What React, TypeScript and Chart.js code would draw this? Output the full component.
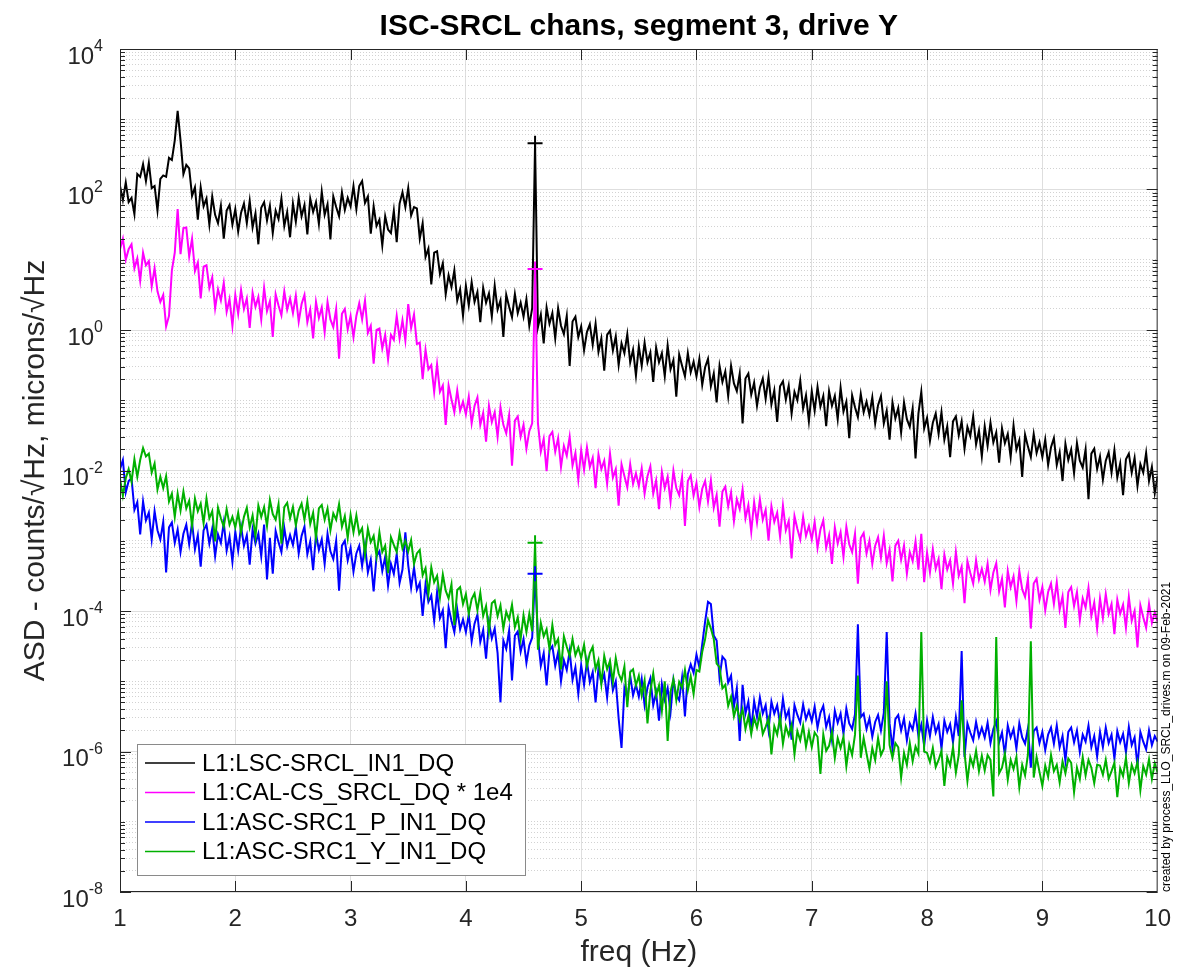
import React, { useEffect, useRef } from 'react';
import { Chart, registerables } from 'chart.js';

Chart.register(...registerables);

const FONT = '"Liberation Sans", Arial, Helvetica, sans-serif';
const AXIS_COLOR = '#262626';
const MAJOR_GRID = 'rgb(222,222,222)';
const MINOR_GRID = 'rgb(210,210,210)';

// frequency axis: 1 Hz .. 10 Hz sampled every 0.025 Hz
const freqStart = 1;
const freqStep = 0.025;
const pointCount = 361;
const freqs = Array.from({ length: pointCount }, (_, i) => Math.round((freqStart + i * freqStep) * 1000) / 1000);

const xTickValues = [1, 2, 3, 4, 5, 6, 7, 8, 9, 10];
const yLabelExponents = [4, 2, 0, -2, -4, -6, -8];
const yDecades = [-8, -7, -6, -5, -4, -3, -2, -1, 0, 1, 2, 3];
const yMantissas = [1, 2, 3, 4, 5, 6, 7, 8, 9];

const seriesLabels = [
  'L1:LSC-SRCL_IN1_DQ',
  'L1:CAL-CS_SRCL_DQ * 1e4',
  'L1:ASC-SRC1_P_IN1_DQ',
  'L1:ASC-SRC1_Y_IN1_DQ',
];
const seriesColors = ['#000000', '#ff00ff', '#0000ff', '#00b000'];

// log10 of the ASD, one value per 0.025 Hz (each row = 0.5 Hz)
const lscSrclLog = [
  2.05, 1.85, 2.10, 1.82, 1.88, 1.65, 2.22, 2.18, 2.36, 2.12, 2.38, 2.02, 2.05, 1.70, 2.15, 2.20, 2.18, 2.45, 2.42, 2.70,
  3.12, 2.70, 2.22, 2.35, 2.30, 1.91, 2.03, 1.57, 2.03, 1.76, 1.87, 1.50, 1.90, 1.64, 1.52, 1.77, 1.30, 1.70, 1.78, 1.50,
  1.72, 1.40, 1.67, 1.80, 1.52, 1.84, 1.46, 1.66, 1.22, 1.74, 1.82, 1.56, 1.77, 1.38, 1.70, 1.58, 1.87, 1.48, 1.68, 1.32,
  1.80, 1.54, 1.88, 1.62, 1.78, 1.36, 1.87, 1.68, 1.82, 1.51, 1.97, 1.64, 1.79, 1.29, 1.90, 1.75, 1.62, 1.96, 1.71, 1.88,
  1.76, 2.05, 1.72, 2.05, 2.12, 1.81, 1.90, 1.37, 1.76, 1.48, 1.57, 1.20, 1.62, 1.43, 1.38, 1.70, 1.25, 1.80, 1.96, 1.75,
  2.02, 1.63, 1.75, 1.73, 1.30, 1.52, 1.04, 1.16, 0.65, 1.10, 1.12, 0.80, 0.95, 0.51, 0.78, 0.61, 0.85, 0.42, 0.58, 0.20,
  0.63, 0.35, 0.68, 0.40, 0.54, 0.11, 0.60, 0.39, 0.52, 0.19, 0.63, 0.29, 0.42, -0.10, 0.50, 0.33, 0.18, 0.51, 0.24, 0.39,
  0.19, 0.44, 0.06, 0.31, 2.66, 0.04, 0.22, -0.19, 0.32, 0.09, 0.24, -0.12, 0.31, 0.06, -0.06, 0.20, -0.51, 0.12, 0.19, -0.10,
  0.05, -0.29, -0.03, 0.08, -0.21, 0.09, -0.31, -0.12, -0.58, -0.07, -0.01, -0.29, -0.09, -0.50, -0.19, -0.33, -0.06, -0.46, -0.28, -0.65,
  -0.23, -0.51, -0.18, -0.46, -0.32, -0.74, -0.25, -0.46, -0.33, -0.66, -0.22, -0.56, -0.43, -0.95, -0.35, -0.51, -0.66, -0.33, -0.60, -0.45,
  -0.66, -0.41, -0.78, -0.53, -0.41, -0.80, -0.62, -1.03, -0.51, -0.74, -0.59, -0.94, -0.51, -0.76, -0.87, -0.62, -1.33, -0.69, -0.62, -0.92,
  -0.75, -1.08, -0.82, -0.69, -0.98, -0.67, -1.06, -0.86, -1.31, -0.80, -0.73, -0.99, -0.79, -1.19, -0.88, -1.00, -0.72, -1.12, -0.93, -1.30,
  -0.87, -1.15, -0.81, -1.09, -0.94, -1.37, -0.87, -1.08, -0.94, -1.27, -0.82, -1.16, -1.02, -1.54, -0.93, -1.10, -1.24, -0.91, -1.17, -1.02,
  -1.21, -0.96, -1.33, -1.07, -0.94, -1.33, -1.15, -1.56, -1.03, -1.26, -1.11, -1.46, -1.03, -1.27, -1.38, -1.12, -1.83, -1.19, -0.88, -1.40,
  -1.25, -1.58, -1.32, -1.19, -1.48, -1.17, -1.56, -1.37, -1.81, -1.30, -1.23, -1.50, -1.30, -1.69, -1.38, -1.51, -1.23, -1.63, -1.43, -1.80,
  -1.37, -1.65, -1.32, -1.60, -1.46, -1.89, -1.40, -1.61, -1.48, -1.81, -1.36, -1.70, -1.57, -2.09, -1.49, -1.66, -1.81, -1.48, -1.75, -1.60,
  -1.81, -1.56, -1.92, -1.67, -1.54, -1.92, -1.74, -2.15, -1.62, -1.85, -1.70, -2.04, -1.61, -1.86, -1.96, -1.70, -2.41, -1.76, -1.69, -1.98,
  -1.80, -2.13, -1.86, -1.74, -2.03, -1.71, -2.10, -1.90, -2.35, -1.84, -1.76, -2.03, -1.82, -2.22, -1.91, -2.03, -1.75, -2.15, -1.95, -2.32,
  -2.08,
];

const calSrclLog = [
  1.15, 1.30, 1.00, 1.15, 1.22, 0.88, 1.02, 0.70, 1.10, 0.92, 0.98, 0.62, 0.88, 0.55, 0.40, 0.50, 0.05, 0.20, 0.85, 1.10,
  1.72, 1.08, 1.45, 1.46, 1.05, 1.30, 0.84, 0.96, 0.45, 0.90, 0.92, 0.60, 0.75, 0.31, 0.58, 0.42, 0.67, 0.26, 0.44, 0.06,
  0.50, 0.23, 0.57, 0.30, 0.45, 0.03, 0.53, 0.33, 0.47, 0.15, 0.60, 0.27, 0.41, -0.10, 0.51, 0.35, 0.21, 0.55, 0.29, 0.45,
  0.24, 0.49, 0.12, 0.37, 0.50, 0.11, 0.29, -0.12, 0.40, 0.17, 0.32, -0.03, 0.40, 0.15, 0.04, 0.30, -0.41, 0.23, 0.30, 0.01,
  0.20, -0.10, 0.20, 0.38, 0.15, 0.42, -0.04, 0.06, -0.48, 0.00, 0.02, -0.26, -0.07, -0.42, -0.07, -0.14, 0.20, -0.12, 0.14, -0.15,
  0.37, 0.03, 0.22, -0.20, -0.18, -0.70, -0.28, -0.56, -0.50, -0.88, -0.49, -0.88, -0.79, -1.35, -0.79, -0.99, -1.17, -0.86, -1.15, -1.02,
  -1.20, -0.95, -1.33, -1.08, -0.96, -1.35, -1.18, -1.59, -1.08, -1.31, -1.17, -1.52, -1.10, -1.35, -1.47, -1.21, -1.93, -1.29, -1.23, -1.52,
  -1.35, -1.69, -1.44, -1.33, 0.87, -1.33, -1.73, -1.55, -2.01, -1.51, -1.45, -1.73, -1.54, -1.95, -1.65, -1.79, -1.52, -1.93, -1.75, -2.13,
  -1.71, -1.99, -1.67, -1.95, -1.82, -2.25, -1.77, -1.98, -1.86, -2.19, -1.76, -2.10, -1.98, -2.50, -1.91, -2.08, -2.24, -1.91, -2.19, -2.04,
  -2.22, -1.97, -2.33, -2.08, -1.94, -2.33, -2.14, -2.55, -2.02, -2.25, -2.09, -2.44, -2.00, -2.25, -2.35, -2.09, -2.79, -2.15, -2.07, -2.36,
  -2.18, -2.52, -2.26, -2.15, -2.44, -2.14, -2.53, -2.35, -2.80, -2.30, -2.23, -2.51, -2.31, -2.72, -2.41, -2.55, -2.27, -2.68, -2.49, -2.87,
  -2.45, -2.74, -2.41, -2.70, -2.56, -3.00, -2.51, -2.73, -2.60, -2.94, -2.50, -2.85, -2.72, -3.25, -2.65, -2.83, -2.98, -2.66, -2.93, -2.79,
  -2.98, -2.73, -3.10, -2.84, -2.71, -3.10, -2.92, -3.33, -2.81, -3.04, -2.88, -3.23, -2.80, -3.05, -3.16, -2.90, -3.61, -2.96, -2.89, -3.18,
  -3.00, -3.33, -3.07, -2.95, -3.24, -2.93, -3.32, -3.13, -3.58, -3.07, -3.00, -3.27, -3.07, -3.47, -3.16, -3.29, -3.01, -3.41, -2.90, -3.59,
  -3.17, -3.45, -3.12, -3.40, -3.26, -3.69, -3.20, -3.41, -3.28, -3.61, -3.16, -3.50, -3.37, -3.89, -3.29, -3.46, -3.61, -3.28, -3.55, -3.40,
  -3.58, -3.33, -3.70, -3.45, -3.32, -3.72, -3.54, -3.95, -3.43, -3.66, -3.51, -3.86, -3.43, -3.69, -3.80, -3.54, -4.25, -3.61, -3.54, -3.84,
  -3.66, -3.99, -3.73, -3.61, -3.90, -3.59, -3.98, -3.79, -4.24, -3.73, -3.66, -3.93, -3.73, -4.13, -3.82, -3.95, -3.67, -4.07, -3.88, -4.25,
  -3.82, -4.10, -3.76, -4.04, -3.90, -4.33, -3.84, -4.04, -3.91, -4.24, -3.80, -4.14, -4.00, -4.52, -3.92, -4.09, -4.24, -3.90, -4.17, -4.02,
  -4.15,
];

const ascSrc1PLog = [
  -1.98, -1.85, -2.31, -2.15, -2.11, -2.56, -2.45, -2.91, -2.44, -2.71, -2.60, -2.98, -2.58, -2.85, -2.98, -2.73, -3.45, -2.81, -2.74, -3.03,
  -2.84, -3.16, -2.90, -2.77, -3.05, -2.74, -3.12, -2.92, -3.37, -2.85, -2.77, -3.04, -2.83, -3.22, -2.91, -3.03, -2.74, -3.14, -2.94, -3.30,
  -2.87, -3.14, -2.80, -3.07, -2.92, -3.34, -2.84, -3.04, -2.90, -3.22, -2.77, -3.55, -2.96, -3.47, -2.86, -3.02, -3.16, -2.82, -3.08, -2.92,
  -3.06, -2.81, -3.18, -2.93, -2.80, -3.19, -3.01, -3.42, -2.90, -3.13, -2.98, -3.33, -2.90, -3.15, -3.26, -3.00, -3.71, -3.07, -3.00, -3.28,
  -3.10, -3.44, -3.18, -3.07, -3.36, -3.06, -3.45, -3.27, -3.72, -3.22, -3.15, -3.43, -3.23, -3.64, -3.33, -3.47, -3.19, -3.60, -3.41, -2.88,
  -3.35, -3.67, -3.38, -3.70, -3.60, -4.07, -3.62, -3.87, -3.78, -4.14, -3.73, -4.10, -3.99, -4.53, -3.95, -4.14, -4.30, -3.98, -4.26, -4.12,
  -4.30, -4.05, -4.43, -4.18, -4.05, -4.44, -4.27, -4.68, -4.16, -4.39, -4.25, -4.60, -5.30, -4.42, -4.54, -4.28, -4.99, -4.35, -4.29, -4.58,
  -4.40, -4.74, -4.49, -4.38, -3.47, -4.38, -4.78, -4.60, -5.06, -4.56, -4.50, -4.78, -4.59, -5.00, -4.70, -4.84, -4.57, -4.98, -4.80, -5.18,
  -4.77, -5.05, -4.72, -5.01, -4.87, -5.30, -4.81, -5.02, -4.90, -5.23, -4.79, -5.13, -5.00, -5.53, -5.95, -5.10, -5.25, -4.92, -5.20, -5.05,
  -5.22, -4.97, -5.34, -5.09, -4.96, -5.34, -5.16, -5.56, -5.04, -5.26, -5.10, -5.44, -4.98, -5.20, -5.27, -4.95, -5.50, -4.90, -4.76, -4.88,
  -4.62, -4.80, -4.47, -4.15, -3.87, -3.90, -4.35, -4.42, -4.95, -4.65, -4.70, -5.02, -4.92, -5.36, -5.10, -5.85, -5.05, -5.46, -5.29, -5.68,
  -5.28, -5.51, -5.23, -5.46, -5.34, -5.69, -5.29, -5.46, -5.34, -5.61, -5.25, -5.52, -5.41, -5.83, -5.34, -5.48, -5.59, -5.33, -5.54, -5.42,
  -5.57, -5.36, -5.66, -5.45, -5.35, -5.65, -5.51, -5.83, -5.42, -5.59, -5.46, -5.75, -5.39, -5.60, -5.68, -5.47, -4.19, -5.51, -5.46, -5.68,
  -5.53, -5.79, -5.58, -5.48, -5.70, -5.45, -4.30, -5.60, -5.96, -5.54, -5.48, -5.70, -5.53, -5.84, -5.60, -5.69, -5.46, -5.78, -5.62, -5.92,
  -5.56, -5.78, -5.51, -5.73, -5.61, -5.96, -5.56, -5.72, -5.61, -5.87, -5.51, -5.78, -4.57, -6.08, -5.60, -5.73, -5.84, -5.58, -5.79, -5.66,
  -5.80, -5.59, -5.88, -5.68, -5.57, -5.87, -5.73, -6.05, -5.63, -5.80, -5.68, -5.96, -5.60, -5.80, -5.89, -5.67, -6.23, -5.71, -5.66, -5.88,
  -5.72, -5.98, -5.76, -5.66, -5.89, -5.63, -5.94, -5.78, -6.13, -5.72, -5.66, -5.87, -5.70, -6.01, -5.76, -5.86, -5.63, -5.94, -5.78, -6.07,
  -5.72, -5.94, -5.66, -5.88, -5.76, -6.10, -5.71, -5.87, -5.75, -6.01, -5.65, -5.91, -5.80, -6.21, -5.72, -5.86, -5.97, -5.70, -5.91, -5.78,
  -5.86,
];

const ascSrc1YLog = [
  -2.12, -2.36, -2.11, -1.98, -2.16, -1.84, -2.09, -1.85, -1.68, -1.80, -1.76, -2.03, -1.90, -2.27, -2.09, -2.25, -2.08, -2.44, -2.33, -2.66,
  -2.33, -2.57, -2.30, -2.54, -2.43, -2.79, -2.40, -2.58, -2.47, -2.75, -2.40, -2.68, -2.58, -3.01, -2.53, -2.68, -2.80, -2.55, -2.77, -2.66,
  -2.81, -2.60, -2.88, -2.66, -2.53, -2.81, -2.64, -2.94, -2.50, -2.66, -2.52, -2.79, -2.42, -2.62, -2.70, -2.48, -3.04, -2.52, -2.46, -2.68,
  -2.52, -2.78, -2.57, -2.47, -2.70, -2.44, -2.76, -2.60, -2.96, -2.54, -2.49, -2.70, -2.54, -2.85, -2.61, -2.70, -2.48, -2.80, -2.65, -2.96,
  -2.63, -2.88, -2.64, -2.90, -2.82, -3.20, -2.83, -3.02, -2.93, -3.22, -2.88, -3.16, -3.07, -3.46, -2.95, -3.06, -3.16, -2.89, -3.11, -3.00,
  -3.15, -2.99, -3.33, -3.18, -3.13, -3.49, -3.39, -3.76, -3.38, -3.59, -3.50, -3.81, -3.48, -3.71, -3.82, -3.62, -4.20, -3.70, -3.66, -3.90,
  -3.76, -4.04, -3.83, -3.75, -3.99, -3.74, -4.07, -3.93, -4.29, -3.89, -3.85, -4.07, -3.92, -4.25, -4.01, -4.12, -3.91, -4.23, -4.09, -4.40,
  -4.06, -4.30, -4.04, -4.29, -3.03, -4.55, -4.17, -4.36, -4.26, -4.54, -4.20, -4.48, -4.40, -4.83, -4.36, -4.51, -4.64, -4.40, -4.63, -4.52,
  -4.67, -4.48, -4.79, -4.60, -4.51, -4.83, -4.70, -5.04, -4.64, -4.83, -4.71, -5.01, -4.67, -4.89, -4.99, -4.79, -5.37, -4.87, -4.83, -5.06,
  -4.92, -5.20, -4.99, -5.60, -5.14, -4.89, -5.21, -5.06, -5.42, -5.00, -5.85, -5.15, -4.97, -5.27, -5.01, -5.09, -4.84, -5.13, -4.93, -5.18,
  -4.84, -4.86, -4.58, -4.40, -4.13, -4.25, -4.40, -4.75, -4.80, -5.10, -5.05, -5.35, -5.22, -5.50, -5.35, -5.55, -5.40, -5.68, -5.50, -5.75,
  -5.52, -5.66, -5.47, -5.75, -5.65, -5.53, -6.04, -5.64, -5.76, -5.51, -5.89, -5.64, -5.77, -5.62, -6.04, -5.71, -5.84, -5.63, -5.93, -5.72,
  -5.94, -5.73, -5.79, -6.32, -5.76, -5.99, -5.92, -5.72, -6.09, -5.81, -5.95, -5.79, -6.21, -5.90, -6.05, -5.76, -4.92, -6.09, -5.81, -6.03,
  -6.24, -5.95, -6.12, -5.81, -6.05, -5.96, -5.00, -5.91, -6.09, -5.88, -5.94, -6.37, -6.02, -6.19, -5.88, -6.14, -5.93, -6.03, -4.30, -6.00,
  -6.02, -6.15, -5.95, -6.22, -6.12, -5.99, -6.49, -6.08, -6.20, -5.94, -6.30, -6.05, -5.27, -6.02, -6.42, -6.08, -6.21, -5.99, -6.28, -6.06,
  -6.27, -6.05, -6.12, -6.64, -4.37, -6.31, -6.23, -6.03, -6.40, -6.12, -6.25, -6.08, -6.51, -6.19, -6.34, -6.04, -4.43, -6.37, -6.08, -6.29,
  -6.49, -6.20, -6.36, -6.05, -6.28, -6.19, -6.44, -6.14, -6.31, -6.10, -6.16, -6.58, -6.23, -6.39, -6.08, -6.34, -6.12, -6.23, -6.45, -6.19,
  -6.20, -6.33, -6.12, -6.39, -6.28, -6.16, -6.65, -6.24, -6.35, -6.09, -6.45, -6.19, -6.31, -6.15, -6.55, -6.21, -6.33, -6.11, -6.39, -6.17,
  -6.30,
];

// calibration line markers (+) at 4.6 Hz, log10 of peak height per series
const calLineFreq = 4.6;
const calLinePeakLog = [2.66, 0.87, -3.47, -3.03];

const titleText = 'ISC-SRCL chans, segment 3, drive Y';
const xTitle = 'freq (Hz)';
const yTitle = 'ASD - counts/\u221AHz, microns/\u221AHz';
const footnote = 'created by process_LLO_SRCL_drives.m on 09-Feb-2021';

const yTickValues: number[] = [];
yDecades.forEach((d) => yMantissas.forEach((m) => yTickValues.push(Number((m * Math.pow(10, d)).toPrecision(10)))));
yTickValues.push(1e4);

const isMajorY = (v: number) => {
  const e = Math.log10(v);
  const r = Math.round(e);
  return Math.abs(e - r) < 1e-6 && r % 2 === 0;
};

const overlayPlugin = {
  id: 'matlabOverlay',
  afterDraw(chart: any) {
    const { ctx, chartArea: a } = chart;
    const xs = chart.scales.x;
    const ys = chart.scales.y;
    ctx.save();

    // axes box and inward ticks
    ctx.strokeStyle = AXIS_COLOR;
    ctx.lineWidth = 1;
    ctx.beginPath();
    xs.ticks.forEach((t: any) => {
      if (t.value <= 1 || t.value >= 10) return;
      const px = Math.round(xs.getPixelForValue(t.value)) + 0.5;
      ctx.moveTo(px, a.bottom);
      ctx.lineTo(px, a.bottom - 11);
      ctx.moveTo(px, a.top);
      ctx.lineTo(px, a.top + 11);
    });
    ys.ticks.forEach((t: any) => {
      const py = Math.round(ys.getPixelForValue(t.value)) + 0.5;
      const len = isMajorY(t.value) ? 11 : 5;
      ctx.moveTo(a.left, py);
      ctx.lineTo(a.left + len, py);
      ctx.moveTo(a.right, py);
      ctx.lineTo(a.right - len, py);
    });
    ctx.stroke();
    ctx.strokeRect(a.left + 0.5, a.top + 0.5, a.right - a.left - 1, a.bottom - a.top - 1);

    // y tick labels 10^n
    const baseFont = `24px ${FONT}`;
    const expFont = `16px ${FONT}`;
    ctx.fillStyle = AXIS_COLOR;
    ctx.textBaseline = 'alphabetic';
    ctx.textAlign = 'left';
    yLabelExponents.forEach((e) => {
      const py = ys.getPixelForValue(Math.pow(10, e));
      const expStr = e < 0 ? '-' + Math.abs(e) : String(e);
      ctx.font = expFont;
      const ew = ctx.measureText(expStr).width;
      ctx.font = baseFont;
      const bw = ctx.measureText('10').width;
      const right = a.left - 17;
      ctx.fillText('10', right - ew - bw, py + 14.5);
      ctx.font = expFont;
      ctx.fillText(expStr, right - ew, py + 2);
    });

    // legend
    const lx = a.left + 17;
    const ly = a.bottom - 148;
    const lw = 388;
    const lh = 131;
    ctx.fillStyle = '#ffffff';
    ctx.fillRect(lx, ly, lw, lh);
    ctx.strokeStyle = '#8a8a8a';
    ctx.lineWidth = 1;
    ctx.strokeRect(lx + 0.5, ly + 0.5, lw, lh);
    ctx.font = `24px ${FONT}`;
    ctx.textBaseline = 'middle';
    seriesLabels.forEach((lab, i) => {
      const ry = ly + 19 + i * 29.5;
      ctx.strokeStyle = seriesColors[i];
      ctx.lineWidth = 1.5;
      ctx.beginPath();
      ctx.moveTo(lx + 8, ry);
      ctx.lineTo(lx + 58, ry);
      ctx.stroke();
      ctx.fillStyle = '#000000';
      ctx.fillText(lab, lx + 65, ry + 1);
    });

    // footnote (vertical, right edge)
    ctx.translate(a.right + 9.5, a.bottom);
    ctx.rotate(-Math.PI / 2);
    ctx.font = `12px ${FONT}`;
    ctx.fillStyle = '#000000';
    ctx.textAlign = 'left';
    ctx.textBaseline = 'middle';
    ctx.fillText(footnote, 0, 0);

    ctx.restore();
  },
};

export default function App() {
  const canvasRef = useRef<HTMLCanvasElement | null>(null);

  useEffect(() => {
    const canvas = canvasRef.current;
    if (!canvas) return;
    Chart.defaults.font.family = FONT;

    const logSeries = [lscSrclLog, calSrclLog, ascSrc1PLog, ascSrc1YLog];
    const datasets: any[] = logSeries.map((arr, i) => ({
      label: seriesLabels[i],
      data: arr.map((v, j) => ({ x: freqs[j], y: Math.pow(10, v) })),
      borderColor: seriesColors[i],
      backgroundColor: seriesColors[i],
      borderWidth: 2,
      borderJoinStyle: 'miter',
      pointRadius: 0,
      pointHitRadius: 0,
      tension: 0,
      fill: false,
      order: 10 - i,
    }));
    datasets.push({
      label: 'calibration line',
      data: calLinePeakLog.map((v) => ({ x: calLineFreq, y: Math.pow(10, v) })),
      showLine: false,
      pointStyle: 'cross',
      pointRadius: 7.5,
      pointBorderWidth: 2,
      pointBorderColor: seriesColors,
      borderColor: seriesColors,
      order: 0,
    });

    const chart = new Chart(canvas, {
      type: 'line',
      data: { datasets },
      plugins: [overlayPlugin],
      options: {
        animation: false,
        responsive: false,
        devicePixelRatio: 1,
        events: [],
        layout: { padding: { top: 0, right: 20, bottom: 0, left: 0 } },
        plugins: {
          legend: { display: false },
          tooltip: { enabled: false },
          title: {
            display: true,
            text: titleText,
            fullSize: false,
            color: '#000000',
            font: { size: 30, weight: 'bold', family: FONT },
            padding: { top: 9, bottom: 4 },
          },
        },
        scales: {
          x: {
            type: 'linear',
            min: 1,
            max: 10,
            afterBuildTicks: (scale: any) => {
              scale.ticks = xTickValues.map((v) => ({ value: v }));
            },
            afterFit: (scale: any) => {
              scale.height = 81;
            },
            ticks: {
              autoSkip: false,
              maxRotation: 0,
              color: AXIS_COLOR,
              font: { size: 24, family: FONT },
              padding: 13,
              callback: (v: any) => String(v),
            },
            grid: {
              color: (c: any) => (c.tick && (c.tick.value === 1 || c.tick.value === 10) ? 'rgba(0,0,0,0)' : MAJOR_GRID),
              lineWidth: 1,
              drawTicks: false,
            },
            border: { display: false },
            title: {
              display: true,
              text: xTitle,
              color: AXIS_COLOR,
              font: { size: 30, family: FONT },
              padding: { top: 0, bottom: 2 },
            },
          },
          y: {
            type: 'logarithmic',
            min: 1e-8,
            max: 1e4,
            position: 'left',
            afterBuildTicks: (scale: any) => {
              scale.ticks = yTickValues.map((v) => ({ value: v }));
            },
            afterFit: (scale: any) => {
              scale.width = 120;
            },
            ticks: { display: false },
            grid: {
              color: (c: any) => (c.tick && isMajorY(c.tick.value) ? MAJOR_GRID : MINOR_GRID),
              lineWidth: 1,
              drawTicks: false,
            },
            border: {
              display: false,
              dash: (c: any) => (c.tick && isMajorY(c.tick.value) ? [] : [1, 2]),
            },
            title: {
              display: true,
              text: yTitle,
              color: AXIS_COLOR,
              font: { size: 30, family: FONT },
              padding: { top: 18, bottom: 0 },
            },
          },
        },
      } as any,
    });

    return () => chart.destroy();
  }, []);

  return (
    <div style={{ position: 'absolute', left: 0, top: 0, width: 1184, height: 973, background: '#ffffff' }}>
      <canvas ref={canvasRef} width={1184} height={973} style={{ display: 'block', width: 1184, height: 973 }} />
    </div>
  );
}
